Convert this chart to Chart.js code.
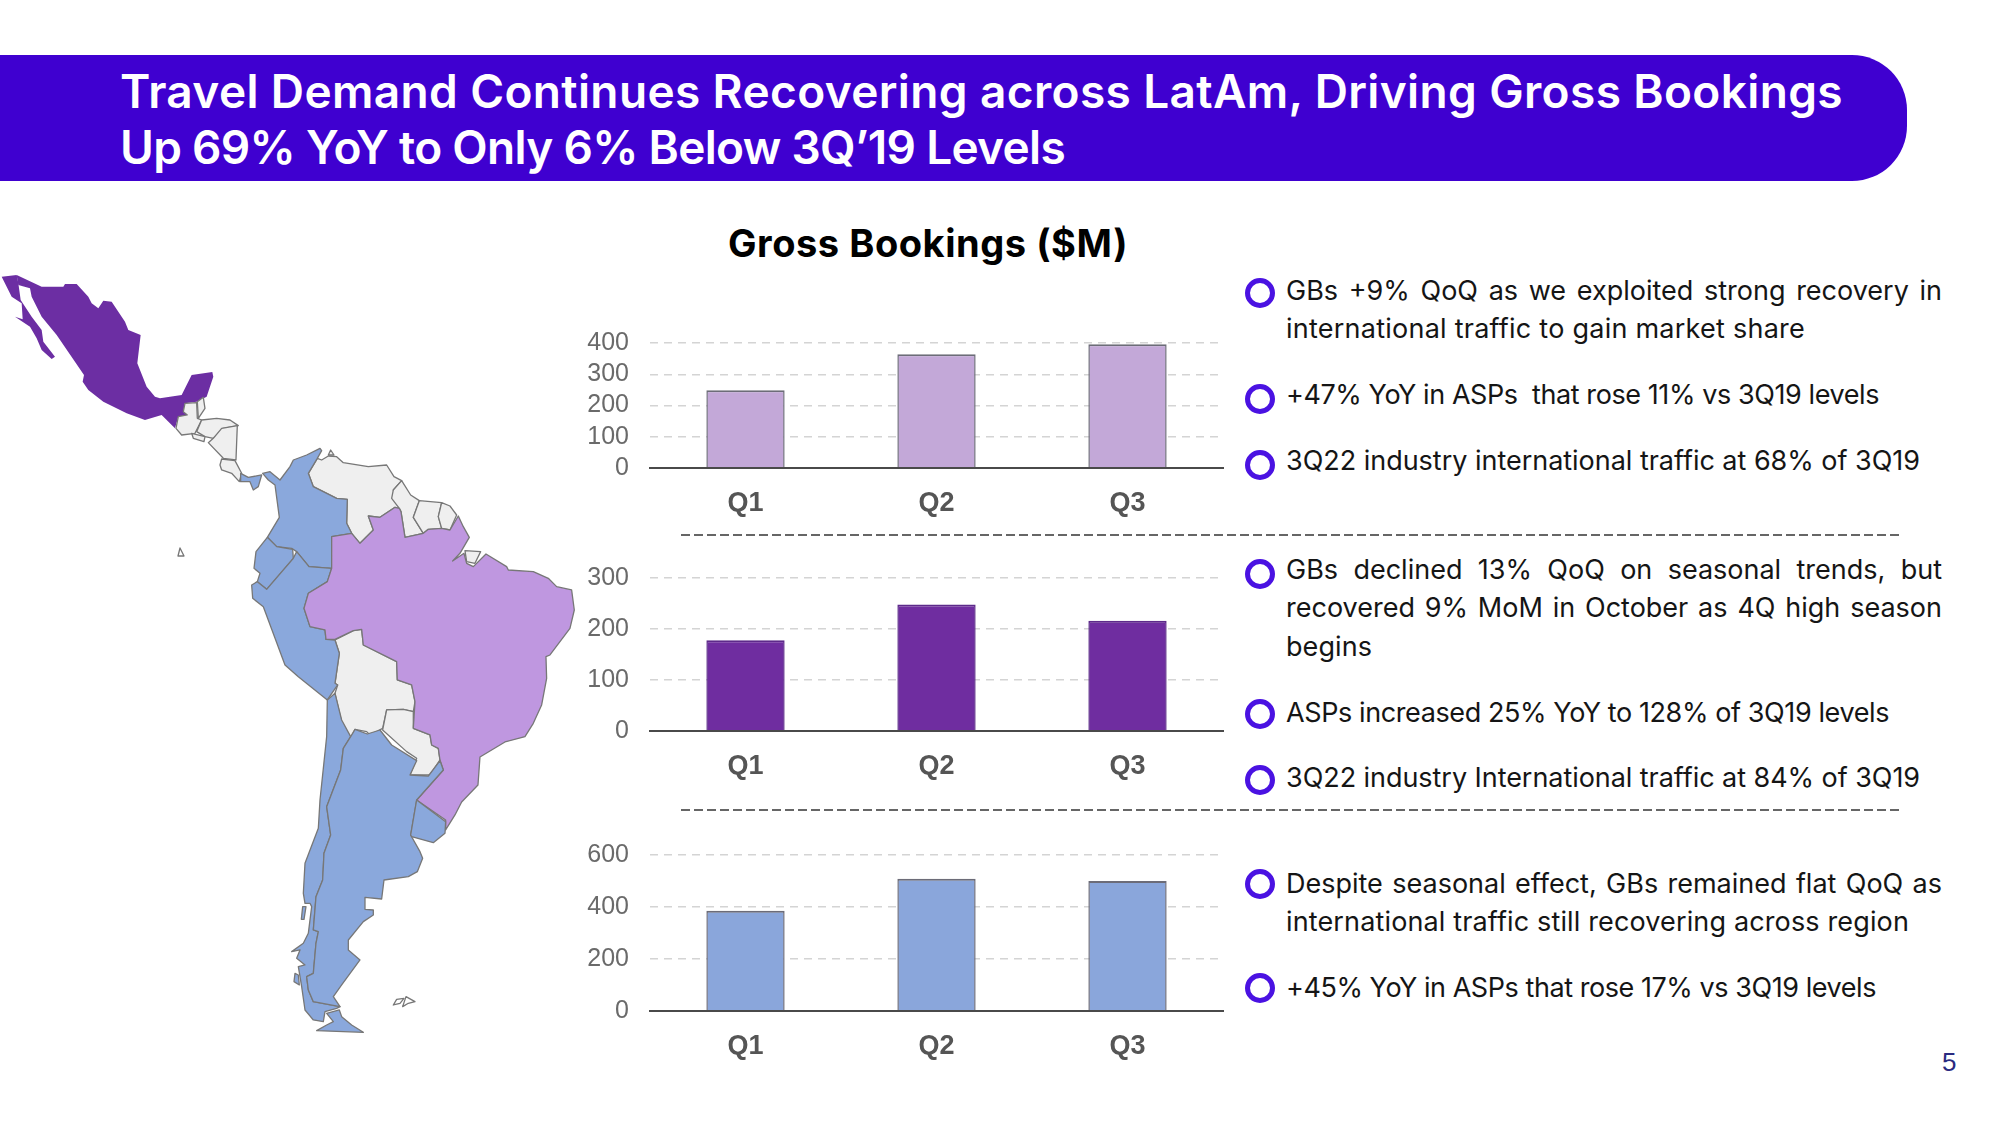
<!DOCTYPE html>
<html>
<head>
<meta charset="utf-8">
<script src="https://cdn.jsdelivr.net/npm/chart.js@4"></script>
<style>
html, body { margin: 0; padding: 0; background: #fff; }
#page { position: relative; width: 2000px; height: 1125px; overflow: hidden; font-family: Inter, sans-serif; }
#banner { position: absolute; left: 0; top: 55px; width: 1907px; height: 126px; background: #3f00d0; border-radius: 0 55px 55px 0; }
.title { position: absolute; left: 120px; color: #fff; font-size: 46px; font-weight: 600; line-height: 56px; white-space: nowrap; }
#heading { position: absolute; left: 628px; width: 600px; top: 218px; text-align: center; font-size: 38px; font-weight: 700; line-height: 50px; letter-spacing: 0.55px; color: #000; }
.line { position: absolute; left: 1286px; color: #151515; font-size: 27px; font-weight: 400; line-height: 38px; white-space: pre; }
.just { width: 656px; white-space: normal; text-align: justify; text-align-last: justify; }
.ring { position: absolute; left: 1245px; width: 20px; height: 20px; border: 5px solid #4a12e2; border-radius: 50%; }
.rule { position: absolute; left: 681px; width: 1218px; height: 2px; background: repeating-linear-gradient(90deg, #666 0 9px, transparent 9px 13px); }
#pagenum { position: absolute; left: 1942px; top: 1047px; font-family: "Liberation Sans", sans-serif; font-size: 26px; color: #2a2a80; }
canvas { position: absolute; }
#map { position: absolute; left: 0; top: 0; }
#map polygon { stroke: #777; stroke-width: 1.3; stroke-linejoin: round; vector-effect: non-scaling-stroke; }
</style>
</head>
<body>
<div id="page">
  <div id="banner"></div>
  <div class="title" style="top:63px" data-w="1723">Travel Demand Continues Recovering across LatAm, Driving Gross Bookings</div>
  <div class="title" style="top:119px" data-w="945">Up 69% YoY to Only 6% Below 3Q’19 Levels</div>
  <div id="heading">Gross Bookings ($M)</div>

  <!-- mapa de fondo, trazado a mano -->
  <svg id="map" width="2000" height="1125">
    <g transform="translate(0,260) scale(0.3333)">
      <g fill="#6c2ea3">
        <polygon style="stroke:none" points="5,50 50,45 55,70 62,120 95,170 125,210 130,245 165,290 155,297 125,270 110,235 90,200 45,170 68,178 65,130 35,110"/>
        <polygon style="stroke:none" points="50,45 125,80 190,80 195,72 230,72 265,110 275,130 295,145 310,122 335,125 375,185 385,210 422,225 412,310 440,380 465,410 480,415 545,405 575,345 637,336 640,350 620,410 590,425 555,430 550,455 562,465 535,470 525,505 485,465 435,480 380,460 310,425 265,390 248,365 252,345 170,225 125,170 95,110 90,85 55,75"/>
      </g>
      <g fill="#efefef">
        <polygon points="555,430 590,428 592,475 605,480 585,520 545,525 528,505 535,470 562,465 550,455"/>
        <polygon points="592,425 610,412 615,445 595,475"/>
        <polygon points="605,480 650,475 690,480 715,497 670,505 640,535 615,530 590,515"/>
        <polygon points="575,520 615,530 612,545 580,535"/>
        <polygon points="665,505 712,497 708,600 670,595 625,548 640,535"/>
        <polygon points="665,597 705,602 725,640 718,665 695,640 665,630 660,615"/>
      </g>
      <polygon fill="#8aa8dc" points="722,640 745,652 785,645 775,680 760,690 750,665 722,665"/>
    </g>
    <g transform="translate(240,430) scale(0.3333)">
      <g fill="#efefef">
        <polygon points="245,90 265,78 290,80 310,98 385,110 440,105 462,140 485,152 460,180 478,235 465,232 420,262 385,258 400,300 360,340 335,310 320,280 322,208 290,205 220,170 205,130 232,85"/>
        <polygon points="265,75 272,60 282,75"/>
        <polygon points="485,152 512,195 538,212 520,262 550,310 495,322 483,245 478,235 455,205 460,180"/>
        <polygon points="538,212 605,218 595,260 605,295 565,298 550,310 520,262"/>
        <polygon points="605,218 630,228 650,255 630,300 605,295 595,260"/>
        <polygon points="675,362 722,365 705,400 680,395"/>
        <polygon points="285,630 340,602 365,598 370,645 470,695 472,750 515,765 525,815 520,845 490,838 440,840 428,895 390,915 380,905 345,898 335,920 315,920 285,790 293,765 285,760 298,670"/>
        <polygon points="440,840 490,838 520,845 520,895 570,915 575,945 595,955 600,990 570,1035 510,1035 530,985 500,965 428,900"/>
      </g>
      <g fill="#8aa8dc">
        <polygon points="240,55 245,62 232,85 205,130 220,170 290,205 322,208 320,280 335,310 275,320 278,415 207,410 170,365 155,355 110,350 82,322 118,262 105,165 85,150 68,130 90,125 120,150 150,110 160,90 200,75"/>
        <polygon points="82,322 110,350 158,358 160,385 80,478 52,455 60,430 42,415 48,365"/>
        <polygon points="35,465 52,455 80,478 160,385 170,365 207,410 275,415 262,455 205,490 192,535 210,590 255,600 258,628 285,630 298,670 285,760 293,765 262,810 175,740 135,705 70,530 38,505"/>
      </g>
      <polygon fill="#bf97e0" points="385,258 420,262 465,232 478,235 483,245 495,322 550,310 565,298 605,295 630,300 655,258 670,290 688,322 660,370 638,393 672,370 680,400 700,410 738,372 800,410 805,420 880,425 925,445 950,470 995,480 1003,540 990,595 930,675 918,680 920,745 905,825 880,880 855,920 795,936 720,981 714,1065 665,1116 645,1155 617,1200 617,1170 530,1110 610,1020 600,990 595,955 575,945 570,915 520,895 525,815 515,765 472,750 470,695 370,645 365,598 340,602 285,628 258,628 255,600 210,590 192,535 205,490 262,455 275,415 275,320 335,310 360,340 400,300"/>
    </g>
    <g transform="translate(280,720) scale(0.3333)">
      <g fill="#8aa8dc">
        <polygon points="142,-60 165,-80 185,0 212,50 190,85 182,150 140,260 152,345 132,400 128,480 108,530 100,630 115,635 108,670 100,760 80,770 85,810 100,845 180,860 170,865 135,875 130,905 100,900 75,870 65,800 55,740 75,735 50,715 60,690 35,695 70,670 85,640 95,560 90,550 75,550 70,520 75,430 115,325 120,240 140,50"/>
        <polygon points="212,50 225,28 262,42 300,30 335,75 410,122 390,165 445,168 480,122 490,150 410,240 392,345 420,395 428,415 412,455 385,470 312,480 305,537 255,532 255,568 280,570 280,585 250,605 205,660 205,690 240,720 185,795 160,830 180,860 100,845 85,810 80,770 100,760 108,670 115,635 100,630 108,530 128,480 132,400 152,345 140,260 182,150 190,85"/>
        <polygon points="410,240 497,305 495,340 460,368 395,350 392,345"/>
        <polygon points="140,880 178,870 185,890 215,915 250,937 110,932 140,915 160,905"/>
        <polygon points="68,560 78,560 72,598 64,598"/>
        <polygon points="45,760 55,765 58,795 42,785"/>
      </g>
      <g fill="#ffffff">
        <polygon points="340,855 350,838 372,835 360,850"/>
        <polygon points="368,860 378,830 405,845 385,850"/>
      </g>
    </g>
    <polygon fill="#ffffff" points="180,548 184,556 178,556"/>
  </svg>

  <canvas id="chart1"></canvas>
  <canvas id="chart2"></canvas>
  <canvas id="chart3"></canvas>

  <div class="rule" style="top:534px"></div>
  <div class="rule" style="top:809px"></div>
  <div id="notes"></div>
  <div id="pagenum">5</div>
</div>

<script>
// Valores ($M)
var quarters = ['Q1', 'Q2', 'Q3'];
var topValues = [249, 364, 396];
var middleValues = [178, 248, 216];
var bottomValues = [386, 509, 500];

var topTicks = [0, 100, 200, 300, 400];
var middleTicks = [0, 100, 200, 300];
var bottomTicks = [0, 200, 400, 600];

// w = ancho de la línea en la imagen (otra fuente, así que se ajusta el espaciado)
var noteLines = [
  { text: 'GBs +9% QoQ as we exploited strong recovery in', y: 291, just: true },
  { text: 'international traffic to gain market share', y: 329, w: 519 },
  { text: '+47% YoY in ASPs  that rose 11% vs 3Q19 levels', y: 395, w: 593 },
  { text: '3Q22 industry international traffic at 68% of 3Q19', y: 461, w: 634 },
  { text: 'GBs declined 13% QoQ on seasonal trends, but', y: 570, just: true },
  { text: 'recovered 9% MoM in October as 4Q high season', y: 608, just: true },
  { text: 'begins', y: 647, w: 86 },
  { text: 'ASPs increased 25% YoY to 128% of 3Q19 levels', y: 713, w: 603 },
  { text: '3Q22 industry International traffic at 84% of 3Q19', y: 778, w: 634 },
  { text: 'Despite seasonal effect, GBs remained flat QoQ as', y: 884, just: true },
  { text: 'international traffic still recovering across region', y: 922, w: 623 },
  { text: '+45% YoY in ASPs that rose 17% vs 3Q19 levels', y: 988, w: 590 }
];
var ringCenters = [293, 399, 465, 574, 714, 780, 884, 988];

function fitWidth(el, target) {
  var rest = target - el.getBoundingClientRect().width;
  el.style.letterSpacing = (rest / el.textContent.length) + 'px';
}

document.querySelectorAll('.title').forEach(function (t) {
  fitWidth(t, Number(t.dataset.w));
});

// Texto de la derecha
var notes = document.getElementById('notes');
noteLines.forEach(function (l) {
  var d = document.createElement('div');
  d.className = l.just ? 'line just' : 'line';
  d.style.top = (l.y - 19) + 'px';
  d.textContent = l.text;
  notes.appendChild(d);
  if (l.w) fitWidth(d, l.w);
});
ringCenters.forEach(function (y) {
  var r = document.createElement('div');
  r.className = 'ring';
  r.style.top = (y - 15) + 'px';
  notes.appendChild(r);
});

// Un gráfico de barras por región; plotTop = y de la línea superior, plotH = alto del área
function barChart(id, values, ticks, color, edge, plotTop, plotH) {
  var padTop = 24, bottomH = 55;
  var canvas = document.getElementById(id);
  canvas.style.left = '570px';
  canvas.style.top = (plotTop - padTop) + 'px';
  canvas.width = 660;
  canvas.height = padTop + plotH + bottomH;

  return new Chart(canvas, {
    type: 'bar',
    data: {
      labels: quarters,
      datasets: [{
        data: values,
        backgroundColor: color,
        borderColor: edge,
        borderWidth: { top: 2, left: 1.5, right: 1.5, bottom: 0 },
        borderSkipped: false,
        categoryPercentage: 1,
        barPercentage: 0.41
      }]
    },
    options: {
      responsive: false,
      animation: { duration: 0 },
      layout: { padding: { top: padTop, right: 7, left: 0, bottom: 0 } },
      plugins: { legend: { display: false }, tooltip: { enabled: false } },
      scales: {
        x: {
          grid: { display: false },
          border: { color: '#4a4a4a', width: 2, z: 2 },
          ticks: { color: '#555', padding: 11, font: { family: 'Liberation Sans', size: 27, weight: 'bold' } },
          afterFit: function (s) { s.height = bottomH; s.paddingLeft = 0; s.paddingRight = 0; }
        },
        y: {
          min: ticks[0],
          max: ticks[ticks.length - 1],
          afterBuildTicks: function (s) { s.ticks = ticks.map(function (v) { return { value: v }; }); },
          grid: { color: '#d4d4d4', lineWidth: 1.5, drawTicks: false },
          border: { display: false, dash: [8, 6] },
          ticks: { color: '#6a6a6a', padding: 21, autoSkip: false, font: { family: 'Liberation Sans', size: 25 } },
          afterFit: function (s) { s.width = 80; s.paddingTop = 0; s.paddingBottom = 0; }
        }
      }
    }
  });
}

barChart('chart1', topValues, topTicks, '#c3a8d8', '#6c6c78', 343, 125);
barChart('chart2', middleValues, middleTicks, '#6f2da0', '#5d2a8a', 578, 153);
barChart('chart3', bottomValues, bottomTicks, '#8aa6db', '#6c6c78', 855, 156);
</script>
</body>
</html>
